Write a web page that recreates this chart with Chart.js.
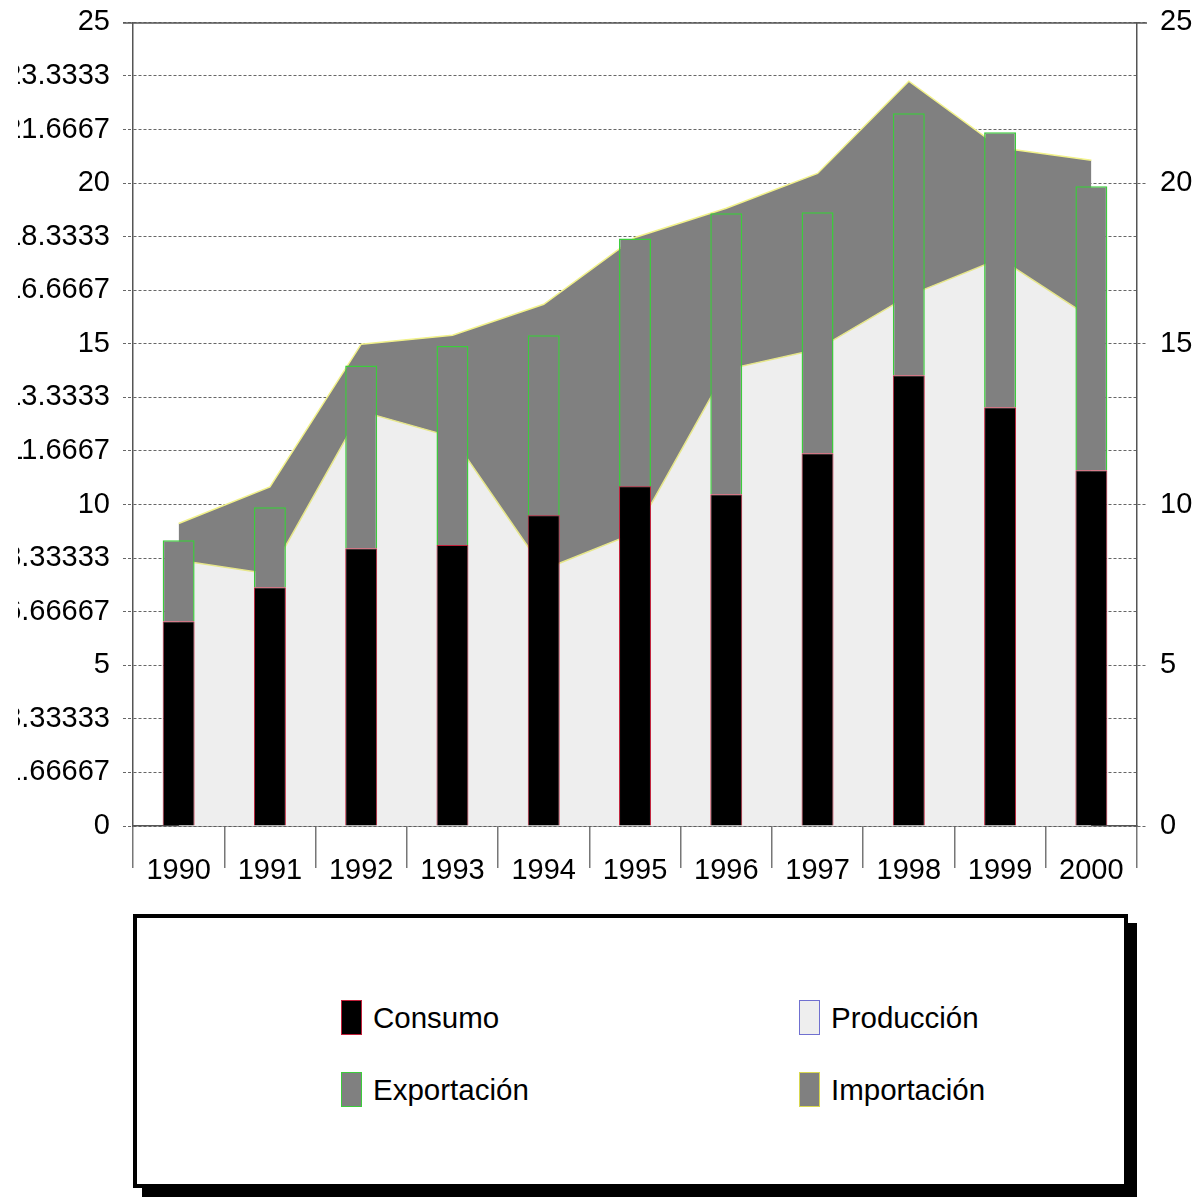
<!DOCTYPE html>
<html>
<head>
<meta charset="utf-8">
<script src="https://cdn.jsdelivr.net/npm/chart.js@4/dist/chart.umd.min.js"></script>
<style>
  body { margin: 0; background: #fff; font-family: 'Liberation Sans', Arial, sans-serif; }
  #wrap { position: absolute; left: 18px; top: -8px; width: 1186px; height: 900px; }
  #legend {
    position: absolute; left: 133px; top: 914px; width: 987px; height: 266px;
    border: 4px solid #000; box-shadow: 9px 9px 0 #000; background: #fff;
  }
  .item { position: absolute; display: flex; align-items: center; font-size: 29.5px; color: #000; }
  .sw { width: 19px; height: 33px; margin-right: 11px; border: 1px solid; }
</style>
</head>
<body>
<div id="wrap"><canvas id="myChart" width="1186" height="900"></canvas></div>
<div id="legend"></div>
<script>
const years = ['1990', '1991', '1992', '1993', '1994', '1995', '1996', '1997', '1998', '1999', '2000'];
const consumo = [6.37, 7.43, 8.64, 8.74, 9.67, 10.57, 10.32, 11.6, 14.02, 13.03, 11.07];
const exportacion = [2.52, 2.49, 5.69, 6.19, 5.6, 7.71, 8.74, 7.49, 8.15, 8.55, 8.83];
const produccion = [8.27, 7.84, 12.9, 12.1, 7.98, 9.12, 14.2, 14.83, 16.5, 17.65, 15.8];
const importacion = [1.14, 2.71, 2.09, 3.17, 8.25, 9.19, 5.02, 5.47, 6.67, 3.45, 4.91];
const leftTickLabels = ['0', '1.66667', '3.33333', '5', '6.66667', '8.33333', '10', '11.6667',
  '13.3333', '15', '16.6667', '18.3333', '20', '21.6667', '23.3333', '25'];

const font = { family: "'Liberation Sans', Arial, sans-serif", size: 29 };

// solid line along the top of the plot
const topLine = {
  id: 'topLine',
  afterDatasetsDraw(chart) {
    const { ctx, chartArea } = chart;
    ctx.save();
    ctx.strokeStyle = '#555';
    ctx.lineWidth = 1.5;
    ctx.beginPath();
    ctx.moveTo(chartArea.left - 10, chartArea.top + 0.5);
    ctx.lineTo(chartArea.right + 10, chartArea.top + 0.5);
    ctx.stroke();
    ctx.restore();
  }
};

const ctx = document.getElementById('myChart').getContext('2d');
new Chart(ctx, {
  type: 'bar',
  data: {
    labels: years,
    datasets: [
      {
        label: 'Consumo', data: consumo, stack: 'bars', order: 0,
        backgroundColor: '#000', borderColor: '#c0203a', borderWidth: 1,
        barPercentage: 0.35, categoryPercentage: 1
      },
      {
        label: 'Exportación', data: exportacion, stack: 'bars', order: 0,
        backgroundColor: '#808080', borderColor: '#3ccc3c', borderWidth: 1.5,
        barPercentage: 0.35, categoryPercentage: 1
      },
      {
        type: 'line', label: 'Producción', data: produccion, stack: 'area', order: 1,
        backgroundColor: '#eeeeee', borderColor: '#e6e68a', borderWidth: 1.5,
        fill: 'origin', pointRadius: 0, tension: 0
      },
      {
        type: 'line', label: 'Importación', data: importacion, stack: 'area', order: 1,
        backgroundColor: '#808080', borderColor: '#f2f28a', borderWidth: 1.5,
        fill: '-1', pointRadius: 0, tension: 0
      }
    ]
  },
  options: {
    responsive: false,
    animation: false,
    devicePixelRatio: 1,
    layout: { padding: { top: 14, left: 0, right: 0, bottom: 0 } },
    plugins: { legend: { display: false }, tooltip: { enabled: false } },
    scales: {
      x: {
        stacked: true,
        offset: true,
        grid: { offset: true, drawOnChartArea: false, tickLength: 42, color: '#777', lineWidth: 1.5 },
        border: { color: '#555', width: 1.5 },
        ticks: { font: font, color: '#000', padding: -14, maxRotation: 0 },
        afterFit: scale => { scale.height = 66; }
      },
      y: {
        position: 'left',
        stacked: true,
        min: 0,
        max: 25,
        afterBuildTicks: scale => {
          scale.ticks = leftTickLabels.map((_, i) => ({ value: i * 25 / 15 }));
        },
        grid: { color: '#666', tickLength: 10, tickBorderDash: [3, 2], lineWidth: 1 },
        border: { color: '#555', width: 1.5, dash: [3, 2] },
        ticks: { font: font, color: '#000', padding: 13, callback: (v, i) => leftTickLabels[i] },
        afterFit: scale => { scale.width = 115; }
      },
      y2: {
        position: 'right',
        min: 0,
        max: 25,
        grid: { drawOnChartArea: false, color: '#666', tickLength: 10, tickBorderDash: [3, 2] },
        border: { color: '#555', width: 1.5 },
        ticks: { font: font, color: '#000', padding: 13, stepSize: 5 },
        afterFit: scale => { scale.width = 67; }
      }
    }
  },
  plugins: [topLine]
});

// legend box
const legendItems = [
  { text: 'Consumo', fill: '#000', border: '#c0203a', left: 204, top: 82 },
  { text: 'Producción', fill: '#eeeeee', border: '#7070d0', left: 662, top: 82 },
  { text: 'Exportación', fill: '#808080', border: '#3ccc3c', left: 204, top: 154 },
  { text: 'Importación', fill: '#808080', border: '#d8d850', left: 662, top: 154 }
];
const legend = document.getElementById('legend');
legendItems.forEach(it => {
  const el = document.createElement('div');
  el.className = 'item';
  el.style.left = it.left + 'px';
  el.style.top = it.top + 'px';
  el.innerHTML = '<span class="sw" style="background:' + it.fill + ';border-color:' + it.border + '"></span>' + it.text;
  legend.appendChild(el);
});
</script>
</body>
</html>
